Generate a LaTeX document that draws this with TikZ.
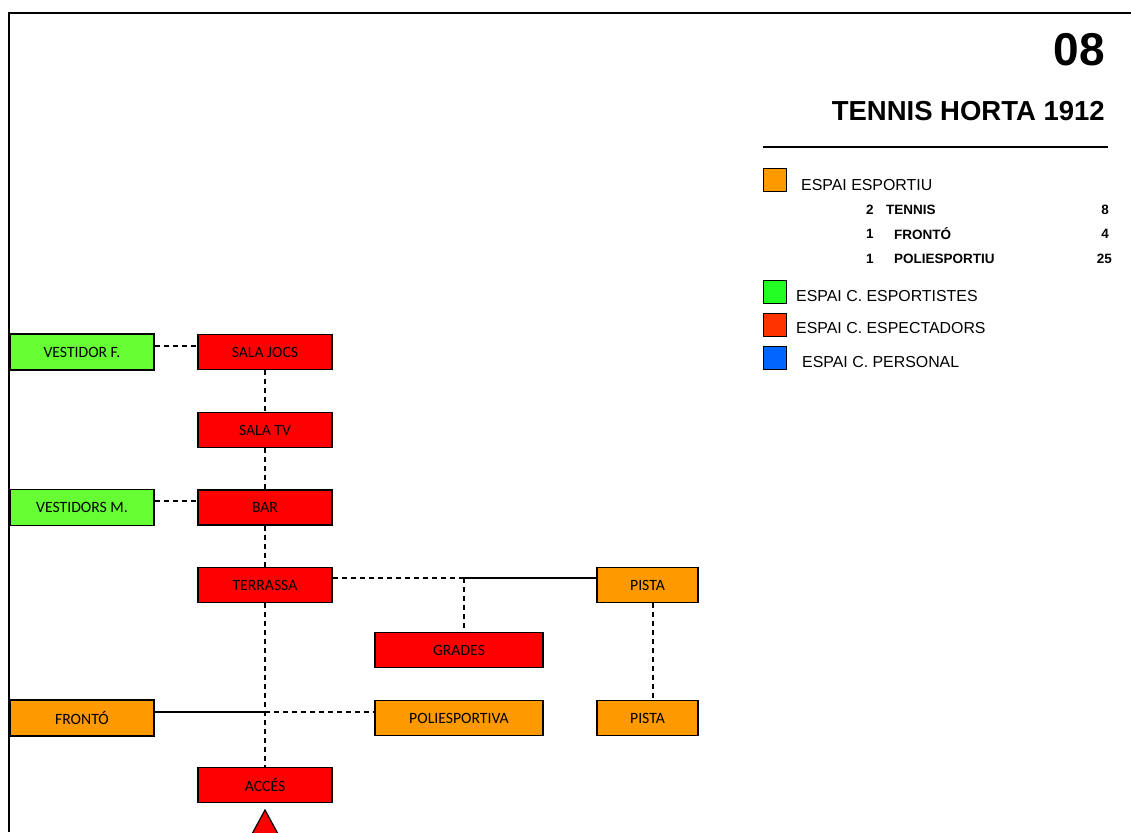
\documentclass[tikz,border=0pt]{standalone}
\usepackage{fontspec}
\setmainfont{Liberation Sans}
\newfontfamily\carlito{Carlito}
\definecolor{nred}{HTML}{FF0000}
\definecolor{ngreen}{HTML}{66FF33}
\definecolor{norange}{HTML}{FF9900}
\definecolor{lorange}{HTML}{FF9900}
\definecolor{lgreen}{HTML}{22FF22}
\definecolor{lred}{HTML}{FF3300}
\definecolor{lblue}{HTML}{0066FF}
\begin{document}
\begin{tikzpicture}[x=1pt,y=-1pt,
  box/.style={draw=black, line width=1.6pt, inner sep=0pt, font=\carlito\fontsize{15.7}{16}\selectfont},
  wbox/.style={box, minimum width=144pt, minimum height=36pt},
  rbox/.style={box, minimum width=134pt, minimum height=35pt},
  gbox/.style={box, minimum width=168pt, minimum height=35pt},
  pbox/.style={box, minimum width=101pt, minimum height=35pt},
  dsh/.style={line width=1.3pt, dash pattern=on 5pt off 4pt},
  sol/.style={line width=1.2pt},
  lsq/.style={draw=black, line width=1.2pt, minimum width=23pt, minimum height=23pt, inner sep=0pt},
  ltxt/.style={anchor=west, inner sep=0pt, font=\fontsize{15.9}{16}\selectfont},
  stxt/.style={inner sep=0pt, font=\bfseries\fontsize{13.5}{14}\selectfont}]
\useasboundingbox (0,0) rectangle (1131,832);
\fill[white] (0,0) rectangle (1131,832);
% frame
\draw[line width=2pt] (9,832) -- (9,13) -- (1131,13);
% title
\node[anchor=east, inner sep=0pt, font=\bfseries\fontsize{46}{46}\selectfont] (num) at (1105,50) {08};
\node[anchor=east, inner sep=0pt, font=\bfseries\fontsize{27.5}{28}\selectfont] (title) at (1105,111) {TENNIS HORTA 1912};
\coordinate (r1) at (763,147);
\coordinate (r2) at (1108,147);
\draw[line width=1.3pt] (r1) -- (r2);
% legend
\node[lsq, fill=lorange] (sq1) at (775,180) {};
\node[ltxt] (t1) at (801,185) {ESPAI ESPORTIU};
\node[stxt, anchor=west] (s1a) at (866,210) {2};
\node[stxt, anchor=west] (s1b) at (886,210) {TENNIS};
\node[stxt, anchor=east] (s1c) at (1109,210) {8};
\node[stxt, anchor=west] (s2a) at (866,234) {1};
\node[stxt, anchor=west] (s2b) at (894,234) {FRONTÓ};
\node[stxt, anchor=east] (s2c) at (1109,234) {4};
\node[stxt, anchor=west] (s3a) at (866,259) {1};
\node[stxt, anchor=west] (s3b) at (894,259) {POLIESPORTIU};
\node[stxt, anchor=east] (s3c) at (1112,259) {25};
\node[lsq, fill=lgreen] (sq2) at (775,292) {};
\node[ltxt] (t2) at (796,296) {ESPAI C. ESPORTISTES};
\node[lsq, fill=lred] (sq3) at (775,325) {};
\node[ltxt] (t3) at (796,328) {ESPAI C. ESPECTADORS};
\node[lsq, fill=lblue] (sq4) at (775,358) {};
\node[ltxt] (t4) at (802,362) {ESPAI C. PERSONAL};
% boxes
\node[wbox, fill=ngreen] (vf) at (82,352) {VESTIDOR F.};
\node[rbox, fill=nred] (jocs) at (265,352) {SALA JOCS};
\node[rbox, fill=nred] (tv) at (265,430) {SALA TV};
\node[wbox, fill=ngreen] (vm) at (82,507.5) {VESTIDORS M.};
\node[rbox, fill=nred] (bar) at (265,507.5) {BAR};
\node[rbox, fill=nred] (ter) at (265,585) {TERRASSA};
\node[pbox, fill=norange] (p1) at (647.5,585) {PISTA};
\node[gbox, fill=nred] (gr) at (459,650) {GRADES};
\node[wbox, fill=norange] (fr) at (82,718) {FRONTÓ};
\node[gbox, fill=norange] (po) at (459,718) {POLIESPORTIVA};
\node[pbox, fill=norange] (p2) at (647.5,718) {PISTA};
\node[rbox, fill=nred] (acc) at (265,785) {ACCÉS};
% connectors
\draw[dsh] ([yshift=6pt]vf.east) -- ([yshift=6pt]jocs.west);
\draw[dsh] ([yshift=6.5pt]vm.east) -- ([yshift=6.5pt]bar.west);
\draw[dsh] (jocs.south) -- (tv.north);
\draw[dsh] (tv.south) -- (bar.north);
\draw[dsh] (bar.south) -- (ter.north);
\draw[dsh] (ter.south) -- (acc.north);
\coordinate (j1) at (464,578);
\coordinate (j2) at (265,712);
\draw[dsh] (ter.east |- j1) -- (j1);
\draw[sol] (j1) -- (p1.west |- j1);
\draw[dsh] (j1) -- (j1 |- gr.north);
\draw[dsh] ([xshift=5.5pt]p1.south) -- ([xshift=5.5pt]p2.north);
\draw[sol] (fr.east |- j2) -- (j2);
\draw[dsh] (j2) -- (po.west |- j2);
% entrance marker
\draw[fill=nred, line width=1.2pt] (265,810) -- (240,856) -- (290,856) -- cycle;
\end{tikzpicture}
\end{document}
